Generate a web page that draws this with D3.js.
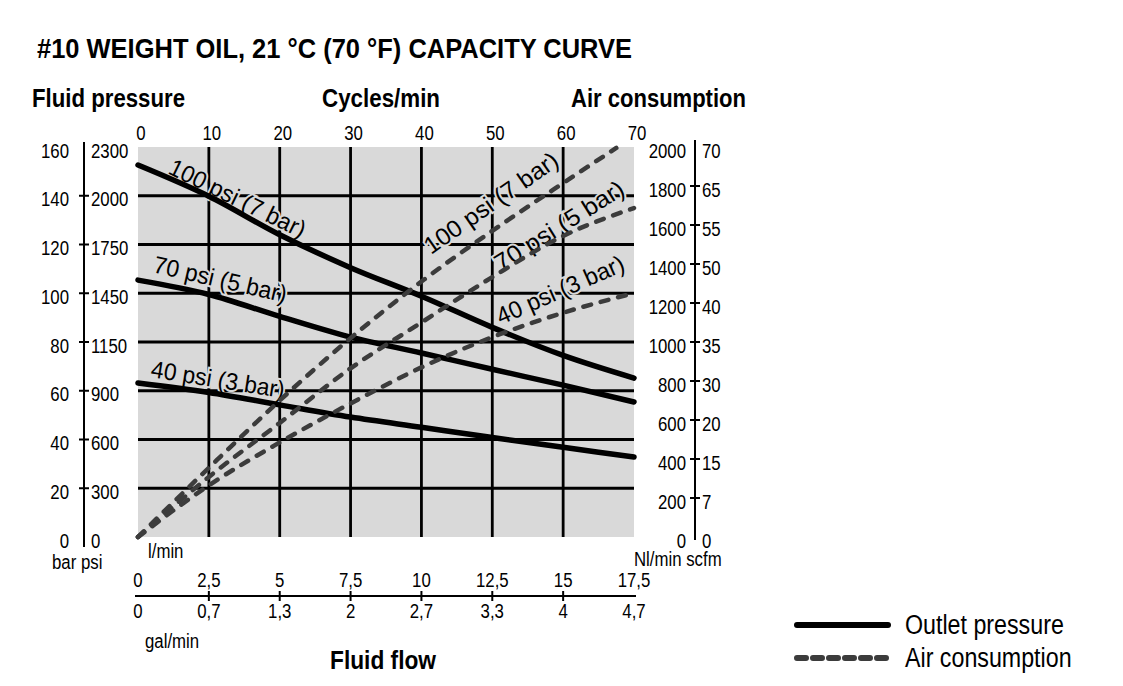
<!DOCTYPE html>
<html><head><meta charset="utf-8">
<script src="https://cdn.jsdelivr.net/npm/d3@7"></script>
<style>
body{margin:0;background:#fff;}
svg{display:block;}
text{font-family:'Liberation Sans',Arial,sans-serif;}
</style></head>
<body>
<svg id="c" width="1123" height="686"></svg>
<script>
// ---------- data ----------
const cycles = [0,10,20,30,40,50,60,70];
const outlet100 = [152.6,139.8,124,110.5,98.8,86,74.5,65.2];
const outlet70  = [105.4,99.5,90.5,82,75.5,68.8,62.3,55.4];
const outlet40  = [63.2,59.3,54.2,49.2,45,40.8,36.8,32.8];
const airCycles100 = [0,10,20,30,40,50,60,67.5];
const air100 = [0,355,700,1020,1310,1570,1815,1995];
const air70  = [0,308,585,865,1100,1333,1544,1687];
const air40  = [0,265,485,685,870,1025,1150,1251];

const barTicks = [0,20,40,60,80,100,120,140,160];
const psiLabels = ["0","300","600","900","1150","1450","1750","2000","2300"];
const nlTicks = [0,200,400,600,800,1000,1200,1400,1600,1800,2000];
const scfmLabels = ["0","7","15","20","30","35","40","50","55","65","70"];
const cycleTicks = [0,10,20,30,40,50,60,70];
const lminTicks = [0,2.5,5,7.5,10,12.5,15,17.5];
const galLabels = ["0","0,7","1,3","2","2,7","3,3","4","4,7"];
const seriesNames = ["100 psi (7 bar)","70 psi (5 bar)","40 psi (3 bar)"];

// ---------- layout ----------
const svg = d3.select("#c");
const L=138,R=634,T=147,B=537;
const x = d3.scaleLinear().domain([0,70]).range([L,R]);
const xl = d3.scaleLinear().domain([0,17.5]).range([L,R]);
const yb = d3.scaleLinear().domain([0,160]).range([B,T]);
const yn = d3.scaleLinear().domain([0,2000]).range([B,T]);
const fmt = d => String(d).replace(".",",");
const SX = 0.8;

// condensed text helper
function ct(parent,xx,yy,str,opt){
  opt=opt||{};
  const sx=opt.sx||SX;
  const t=parent.append("text")
    .attr("transform",`translate(${xx},${yy})${opt.rot!=null?` rotate(${opt.rot})`:""} scale(${sx},1)`)
    .attr("font-size",opt.size||21)
    .attr("text-anchor",opt.anchor||"start")
    .attr("font-weight",opt.weight||"normal")
    .text(str);
  if(opt.len) t.attr("textLength",opt.len/sx).attr("lengthAdjust",opt.adj||"spacingAndGlyphs");
  return t;
}

// title
svg.append("text").attr("x",37).attr("y",58)
  .attr("font-family","'Open Sans',sans-serif").attr("font-weight","bold").attr("font-size",27)
  .attr("textLength",595).attr("lengthAdjust","spacingAndGlyphs")
  .text("#10 WEIGHT OIL, 21 °C (70 °F) CAPACITY CURVE");

ct(svg,32,107,"Fluid pressure",{size:26,weight:"bold",len:153});
ct(svg,322,107,"Cycles/min",{size:26,weight:"bold",len:118});
ct(svg,571,107,"Air consumption",{size:26,weight:"bold",len:175});
ct(svg,330,669,"Fluid flow",{size:26,weight:"bold",len:106});

// plot background
svg.append("rect").attr("x",L).attr("y",T).attr("width",R-L).attr("height",B-T).attr("fill","#d9d9d9");

// grid
const g = svg.append("g").attr("stroke","#000").attr("stroke-width",2.8);
barTicks.filter(d=>d>0&&d<160).forEach(d=>g.append("line").attr("x1",L).attr("x2",R).attr("y1",yb(d)).attr("y2",yb(d)));
cycleTicks.filter(d=>d>0&&d<70).forEach(d=>g.append("line").attr("y1",T).attr("y2",B).attr("x1",x(d)).attr("x2",x(d)));

// left axis
const ax = svg.append("g");
ax.append("line").attr("x1",84).attr("x2",84).attr("y1",142).attr("y2",547).attr("stroke","#000").attr("stroke-width",2);
barTicks.forEach((d,i)=>{
  if(d>0&&d<160) ax.append("line").attr("x1",79).attr("x2",89).attr("y1",yb(d)).attr("y2",yb(d)).attr("stroke","#000").attr("stroke-width",2);
  ct(ax,69,yb(d)+10.5,String(d),{anchor:"end"});
  ct(ax,91,yb(d)+10.5,psiLabels[i]);
});
ct(ax,52,569,"bar psi");

// right axis
ax.append("line").attr("x1",695).attr("x2",695).attr("y1",140).attr("y2",540).attr("stroke","#000").attr("stroke-width",2);
nlTicks.forEach((d,i)=>{
  if(d>0&&d<2000) ax.append("line").attr("x1",690).attr("x2",700).attr("y1",yn(d)).attr("y2",yn(d)).attr("stroke","#000").attr("stroke-width",2);
  ct(ax,686,yn(d)+10.5,String(d),{anchor:"end"});
  ct(ax,702,yn(d)+10.5,scfmLabels[i]);
});
ct(ax,634,566,"Nl/min scfm",{size:20,sx:0.84});

// top axis
cycleTicks.forEach(d=>ct(ax,x(d)+3,140,String(d),{anchor:"middle"}));

// bottom axis
ax.append("line").attr("x1",135).attr("x2",636).attr("y1",596).attr("y2",596).attr("stroke","#000").attr("stroke-width",2);
lminTicks.forEach((d,i)=>{
  if(d>0&&d<17.5) ax.append("line").attr("x1",xl(d)).attr("x2",xl(d)).attr("y1",591).attr("y2",601).attr("stroke","#000").attr("stroke-width",2);
  ct(ax,xl(d),587,fmt(d),{anchor:"middle"});
  ct(ax,xl(d),618,galLabels[i],{anchor:"middle"});
});
ct(ax,148,558,"l/min");
ct(ax,145,648,"gal/min");

// curve labels
const labels = [
  {t:seriesNames[0],cx:4.1, v:149.3,s:yb,a:26,len:149},
  {t:seriesNames[1],cx:2.0, v:108.7,s:yb,a:13,len:136},
  {t:seriesNames[2],cx:1.7, v:65.6, s:yb,a:9,len:135},
  {t:seriesNames[0],cx:41.35,v:1446,s:yn,a:-35,len:158},
  {t:seriesNames[1],cx:51.2,v:1359,s:yn,a:-32,len:148},
  {t:seriesNames[2],cx:51.2,v:1087,s:yn,a:-23.7,len:137}
];
labels.forEach(l=>{
  ct(svg,x(l.cx),l.s(l.v),l.t,{size:24,rot:l.a,len:l.len,adj:"spacingAndGlyphs",sx:1})
   .attr("fill","#000").attr("stroke","#d9d9d9").attr("stroke-width",4).attr("paint-order","stroke");
});

// curves
const lineB = d3.line().x(d=>x(d[0])).y(d=>yb(d[1])).curve(d3.curveMonotoneX);
const lineN = d3.line().x(d=>x(d[0])).y(d=>yn(d[1])).curve(d3.curveMonotoneX);
[outlet100,outlet70,outlet40].forEach(s=>{
  svg.append("path").attr("d",lineB(cycles.map((c,i)=>[c,s[i]])))
    .attr("fill","none").attr("stroke","#000").attr("stroke-width",5.5).attr("stroke-linecap","round");
});
[[airCycles100,air100],[cycles,air70],[cycles,air40]].forEach(([cx,s])=>{
  svg.append("path").attr("d",lineN(cx.map((c,i)=>[c,s[i]])))
    .attr("fill","none").attr("stroke","#3c3c3c").attr("stroke-width",4.5)
    .attr("stroke-linecap","round").attr("stroke-dasharray","8,10");
});

// legend
svg.append("line").attr("x1",797).attr("x2",888).attr("y1",625).attr("y2",625)
  .attr("stroke","#000").attr("stroke-width",6).attr("stroke-linecap","round");
svg.append("line").attr("x1",797).attr("x2",888).attr("y1",658).attr("y2",658)
  .attr("stroke","#3c3c3c").attr("stroke-width",6).attr("stroke-linecap","round").attr("stroke-dasharray","9,7");
ct(svg,905,634,"Outlet pressure",{size:28,sx:0.83});
ct(svg,905,667,"Air consumption",{size:28,sx:0.83});
</script>
</body></html>
